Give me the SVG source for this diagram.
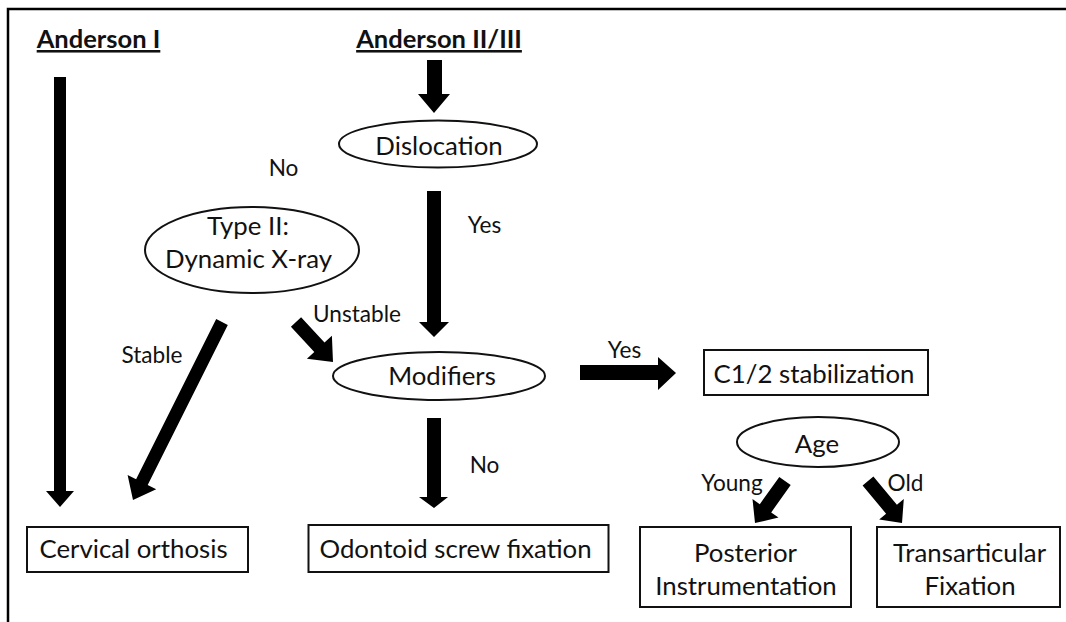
<svg xmlns="http://www.w3.org/2000/svg" width="1066" height="622" viewBox="0 0 1066 622">
<defs>
<style>
.bg{fill:#ffffff}
.frame{stroke:#000;stroke-width:2.5;fill:none}
.node{fill:#fff;stroke:#111;stroke-width:2}
.arrow{fill:#000;stroke:none}
text{font-family:Lato,"Open Sans","Liberation Sans",sans-serif;fill:#111;text-anchor:middle}
.t{font-size:25.8px}
.lbl{font-size:22.6px}
.hd{font-size:25.5px;font-weight:bold;text-decoration:underline}
</style>
</defs>
<rect class="bg" x="0" y="0" width="1066" height="622"/>
<g id="frame">
<path class="frame" d="M8,622 L8,9 L1066,9"/>
</g>
<g id="headings">
<text class="hd" x="98.5" y="48">Anderson I</text>
<text class="hd" x="439" y="48">Anderson II/III</text>
</g>
<g id="connectors">
<polygon class="arrow" points="54,77 66,77 66,491 74,491 60,507 46,491 54,491"/>
<polygon class="arrow" points="427,60 442,60 442,94 450,94 434,113 418,94 427,94"/>
<polygon class="arrow" points="427,191 441,191 441,322 449,322 434,337 419,322 427,322"/>
<polygon class="arrow" points="427,418 441,418 441,497 448,497 434,508 419,497 427,497"/>
<polygon class="arrow" points="216.2,319.1 227.8,324.9 147.7,485.0 156.2,489.3 133,500 127.6,474.9 136.1,479.2"/>
<polygon class="arrow" points="301.1,317.2 324.5,342.5 331.9,335.8 333,362 306.9,358.8 314.3,352.1 290.9,326.8"/>
<polygon class="arrow" points="580,365 658,365 658,357 676,373 658,390 658,380 580,380"/>
<polygon class="arrow" points="779.3,476.9 790.7,485.1 771.2,512.4 778.5,517.6 755,523 752.5,499.0 759.8,504.2"/>
<polygon class="arrow" points="873.4,476.5 896.9,504.7 903.8,499.0 902,523 879.2,519.4 886.1,513.7 862.6,485.5"/>
</g>
<g id="edge-labels">
<text class="lbl" x="283.5" y="176">No</text>
<text class="lbl" x="484.5" y="233">Yes</text>
<text class="lbl" x="357" y="322">Unstable</text>
<text class="lbl" x="152" y="363">Stable</text>
<text class="lbl" x="484.5" y="473">No</text>
<text class="lbl" x="624.5" y="358">Yes</text>
<text class="lbl" x="732" y="491">Young</text>
<text class="lbl" x="905.5" y="491">Old</text>
</g>
<g id="dislocation">
<ellipse class="node" cx="438" cy="144" rx="99" ry="23.5"/>
<text class="t" x="439" y="155">Dislocation</text>
</g>
<g id="type2">
<ellipse class="node" cx="252" cy="250" rx="107" ry="43"/>
<text class="t" x="248" y="235">Type II:</text>
<text class="t" x="248.5" y="268">Dynamic X-ray</text>
</g>
<g id="modifiers">
<ellipse class="node" cx="439" cy="376" rx="106" ry="24"/>
<text class="t" x="442" y="385">Modifiers</text>
</g>
<g id="c12">
<rect class="node" x="704" y="350" width="224" height="45"/>
<text class="t" x="814" y="383">C1/2 stabilization</text>
</g>
<g id="age">
<ellipse class="node" cx="818" cy="442" rx="81" ry="25"/>
<text class="t" x="817" y="453">Age</text>
</g>
<g id="cervical">
<rect class="node" x="27" y="527" width="221" height="45"/>
<text class="t" x="133.5" y="558">Cervical orthosis</text>
</g>
<g id="odontoid">
<rect class="node" x="308.5" y="525" width="300" height="47"/>
<text class="t" x="455.5" y="558">Odontoid screw fixation</text>
</g>
<g id="posterior">
<rect class="node" x="640" y="527" width="211" height="80"/>
<text class="t" x="745.5" y="562">Posterior</text>
<text class="t" x="746" y="595">Instrumentation</text>
</g>
<g id="transarticular">
<rect class="node" x="877" y="527" width="183" height="80"/>
<text class="t" x="969.5" y="562">Transarticular</text>
<text class="t" x="970" y="595">Fixation</text>
</g>
</svg>
